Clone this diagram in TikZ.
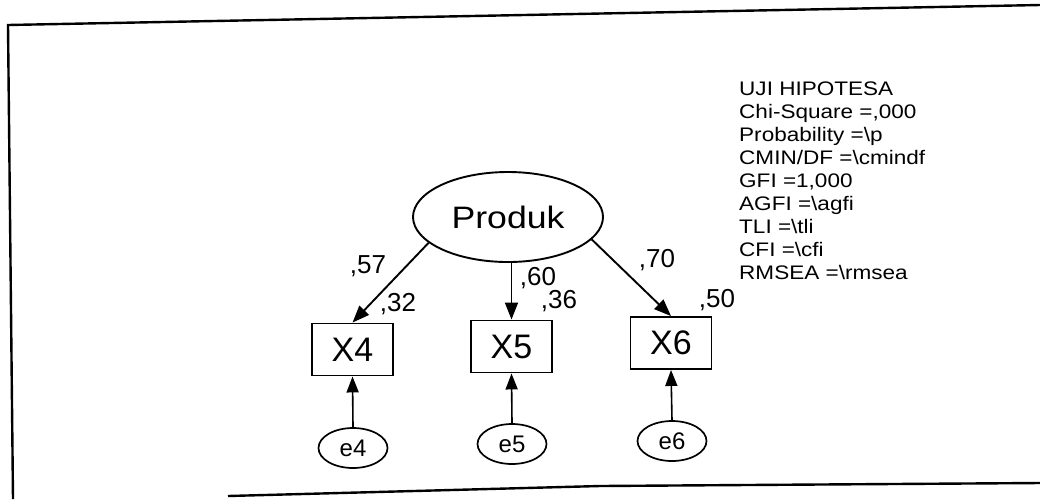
\documentclass[tikz,border=0pt]{standalone}
\usepackage{fontspec}
\setmainfont{Liberation Sans}
\newfontfamily\widefont[FakeStretch=1.15]{Liberation Sans}
\usetikzlibrary{shapes.geometric,arrows.meta}
\begin{document}
\begin{tikzpicture}[x=1pt,y=-1pt,
  frameline/.style={line width=2.4pt,black},
  latent/.style={draw,ellipse,line width=1.9pt,inner sep=0pt,minimum width=190pt,minimum height=90pt,font=\widefont\fontsize{31}{33}\selectfont},
  observed/.style={draw,rectangle,line width=1.9pt,inner sep=0pt,minimum width=81pt,minimum height=52pt,font=\fontsize{34}{36}\selectfont},
  errnode/.style={draw,ellipse,line width=1.7pt,inner sep=0pt,minimum width=69pt,minimum height=40pt,font=\fontsize{24}{26}\selectfont},
  loadlabel/.style={inner sep=0pt,font=\fontsize{26}{28}\selectfont},
  statline/.style={anchor=base west,inner sep=0pt,font=\widefont\fontsize{19.6}{22}\selectfont},
  pathline/.style={line width=1.9pt,-{Triangle[length=17pt,width=13pt]}},
  errline/.style={line width=1.6pt,-{Triangle[length=16pt,width=12pt]}}
]
\useasboundingbox (0,0) rectangle (1040,499);
% scanned frame
\draw[frameline] (1040,5) -- (8,25) -- (13,499);
\draw[frameline] (228,496) -- (600,486) -- (1040,483);

% nodes
\node[latent] (P) at (508,217) {Produk};
\node[observed] (X4) at (352.5,349.5) {X4};
\node[observed] (X5) at (511.5,346.5) {X5};
\node[observed] (X6) at (671,343) {X6};
\node[errnode] (e4) at (353,448) {e4};
\node[errnode] (e5) at (512,444) {e5};
\node[errnode] (e6) at (672,441) {e6};

% connectors
\draw[pathline] (P.198) -- (X4.north);
\draw[pathline] (X5.north |- P.south) -- (X5.north);
\draw[pathline] (P.-15) -- (X6.north);
\draw[errline] (e4.north) -- (X4.south);
\draw[errline] (e5.north) -- (X5.south);
\draw[errline] (e6.north) -- (X6.south);

% loading labels
\node[loadlabel] (l57) at (368,266) {,57};
\node[loadlabel] (l32) at (398,304) {,32};
\node[loadlabel] (l60) at (538,278) {,60};
\node[loadlabel] (l36) at (559,301) {,36};
\node[loadlabel] (l70) at (657,260) {,70};
\node[loadlabel] (l50) at (717,300) {,50};

% statistics
\node[statline] (s1) at (739,95) {UJI HIPOTESA};
\node[statline] (s2) at (739,118) {Chi-Square =,000};
\node[statline] (s3) at (739,141) {Probability =\textbackslash p};
\node[statline] (s4) at (739,164) {CMIN/DF =\textbackslash cmindf};
\node[statline] (s5) at (739,187) {GFI =1,000};
\node[statline] (s6) at (739,210) {AGFI =\textbackslash agfi};
\node[statline] (s7) at (739,233) {TLI =\textbackslash tli};
\node[statline] (s8) at (739,256) {CFI =\textbackslash cfi};
\node[statline] (s9) at (739,279) {RMSEA =\textbackslash rmsea};
\end{tikzpicture}
\end{document}
